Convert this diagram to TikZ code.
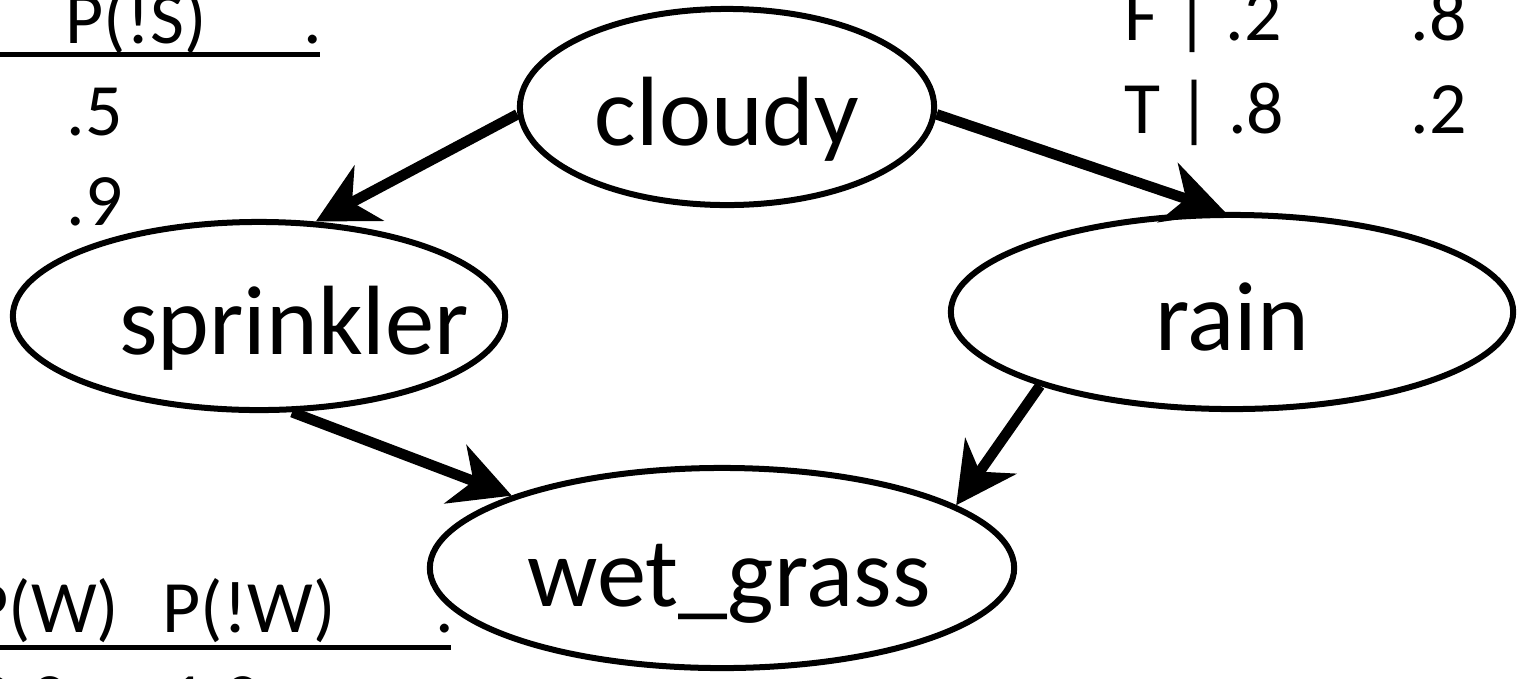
\documentclass[tikz,border=0pt]{standalone}
\usepackage{fontspec}
\setmainfont{Carlito}
\usetikzlibrary{shapes.geometric,arrows.meta}
\begin{document}
\begin{tikzpicture}[x=0.01cm,y=-0.01cm,
  var/.style={ellipse, draw, line width=0.06cm, inner xsep=-1cm, inner ysep=0pt,
    font=\fontsize{28}{32}\selectfont, text height=0.76cm, text depth=0pt},
  link/.style={line width=0.105cm,
    -{Stealth[length=0.6cm,width=0.62cm,inset=0.19cm]}},
  cpt/.style={font=\fontsize{21}{25}\selectfont, anchor=base west, inner sep=0pt},
  rule/.style={line width=0.05cm}]

\useasboundingbox (0,0) rectangle (1522,678);
\clip (0,0) rectangle (1522,678);

% network variables
\node[var, minimum width=4.14cm, minimum height=1.96cm] (cloudy) at (727,107) {cloudy};
\node[var, minimum width=4.92cm, minimum height=1.88cm] (sprinkler) at (259,316) {\hspace*{0.7cm}sprinkler};
\node[var, minimum width=5.62cm, minimum height=1.94cm] (rain) at (1232,312) {rain};
\node[var, minimum width=5.84cm, minimum height=2.0cm] (wet) at (722,568) {\hspace*{0.14cm}wet\_grass};

% dependencies
\draw[link] (cloudy.182) -- (sprinkler.59);
\draw[link] (cloudy.-2) -- (rain.94);
\draw[link] (sprinkler.-71) -- (wet.161);
\draw[link] (rain.201) -- (wet.15);

% P(S | C)
\node[cpt] (sh) at (65,43) {P(!S)};
\node[cpt] (shdot) at (303,43) {.};
\draw[rule] (-5,54) -- (320,54);
\node[cpt] (s1) at (66,135) {.5};
\node[cpt] (s2) at (66,225) {.9};

% P(R | C)
\node[cpt] (rf) at (1124,40) {F | .2};
\node[cpt] (rf2) at (1410,40) {.8};
\node[cpt] (rt) at (1124,133) {T | .8};
\node[cpt] (rt2) at (1410,133) {.2};

% P(W | S, R)
\node[cpt] (wh1) at (-30,632) {P(W)};
\node[cpt] (wh2) at (162,632) {P(!W)};
\node[cpt] (wh3) at (435,632) {.};
\draw[rule] (-5,647) -- (451,647);
\node[cpt] (w1) at (-25,724) {0.0};
\node[cpt] (w2) at (168,724) {1.0};
\end{tikzpicture}
\end{document}
